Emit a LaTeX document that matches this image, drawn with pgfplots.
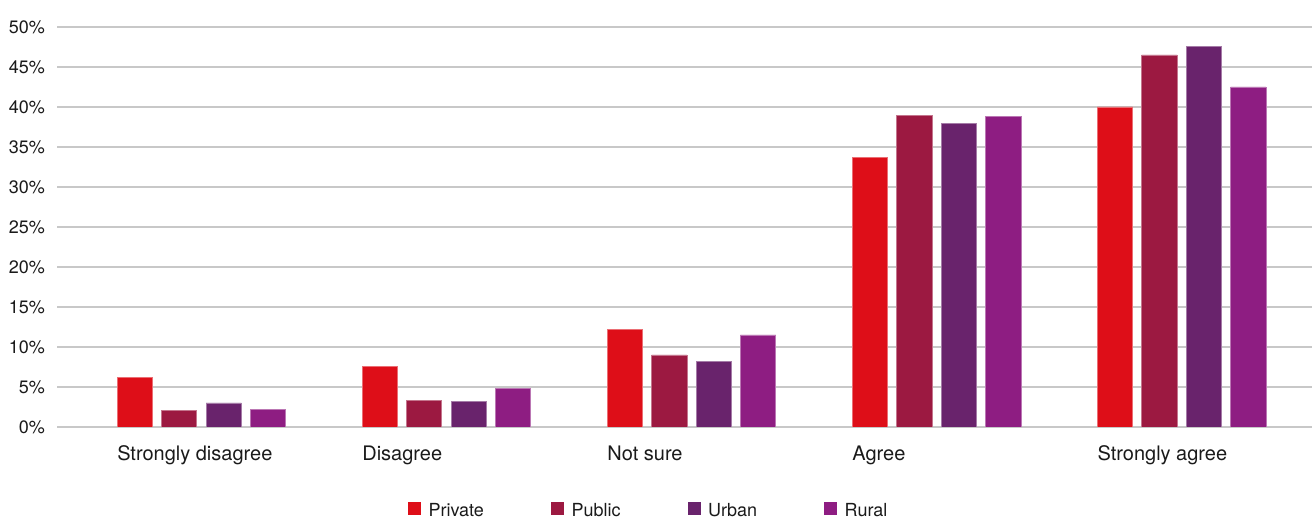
\documentclass[border=0pt]{standalone}
\usepackage{fontspec}
\setmainfont{TeX Gyre Heros}
\usepackage{pgfplots}
\pgfplotsset{compat=1.18}

\definecolor{cPrivate}{HTML}{DE0E18}
\definecolor{cPublic}{HTML}{9C1941}
\definecolor{cUrban}{HTML}{69236C}
\definecolor{cRural}{HTML}{8E1D82}
\definecolor{gridgrey}{HTML}{C8C8C8}
\definecolor{txt}{HTML}{1A1A1A}

\begin{document}
\begin{tikzpicture}
\useasboundingbox (0,0) rectangle (1312pt,518pt);
\begin{axis}[
  at={(57.5pt,91pt)}, anchor=south west,
  scale only axis, width=1254.5pt, height=400pt,
  xmin=-0.587, xmax=4.532, ymin=0, ymax=50,
  axis line style={draw=none},
  tick style={draw=none},
  major tick length=0pt,
  ytick={0,5,...,50},
  yticklabels={0\%,5\%,10\%,15\%,20\%,25\%,30\%,35\%,40\%,45\%,50\%},
  yticklabel style={font=\fontsize{18}{20}\selectfont, text=txt, anchor=east, inner sep=0pt, xshift=-12.5pt},
  ymajorgrids,
  grid style={draw=gridgrey, line width=1.5pt},
  xtick={0,1,2,3,4},
  xticklabels={Strongly disagree, Disagree, Not sure, Agree, Strongly agree},
  xticklabel style={font=\fontsize{20}{22}\selectfont, text=txt, anchor=base west, inner sep=0pt, xshift=-84.3pt, yshift=-34pt},
  ybar, bar width=35.3pt,
  legend columns=4,
  legend style={draw=none, fill=none, inner sep=0pt,
    at={(0.2792,-0.2275)}, anchor=south west,
    font=\fontsize{18}{20}\selectfont, text=txt,
    nodes={inner sep=0pt},
    /tikz/every odd column/.append style={column sep=7.6pt},
    /tikz/every even column/.append style={column sep=67pt}},
  legend image code/.code={\fill[#1, draw=none] (0pt,-5pt) rectangle (13pt,8pt);},
]
\addplot[fill=cPrivate, draw=cPrivate!60!white, line width=0.6pt, bar shift=-66.6pt]
  coordinates {(0,6.2) (1,7.6) (2,12.2) (3,33.7) (4,40.0)};
\addplot[fill=cPublic, draw=cPublic!60!white, line width=0.6pt, bar shift=-22.3pt]
  coordinates {(0,2.1) (1,3.3) (2,9.0) (3,38.9) (4,46.5)};
\addplot[fill=cUrban, draw=cUrban!60!white, line width=0.6pt, bar shift=22.4pt]
  coordinates {(0,3.0) (1,3.2) (2,8.2) (3,37.9) (4,47.6)};
\addplot[fill=cRural, draw=cRural!60!white, line width=0.6pt, bar shift=66.6pt]
  coordinates {(0,2.2) (1,4.8) (2,11.5) (3,38.8) (4,42.5)};
\legend{Private, Public, Urban, Rural}
\end{axis}
\end{tikzpicture}
\end{document}
